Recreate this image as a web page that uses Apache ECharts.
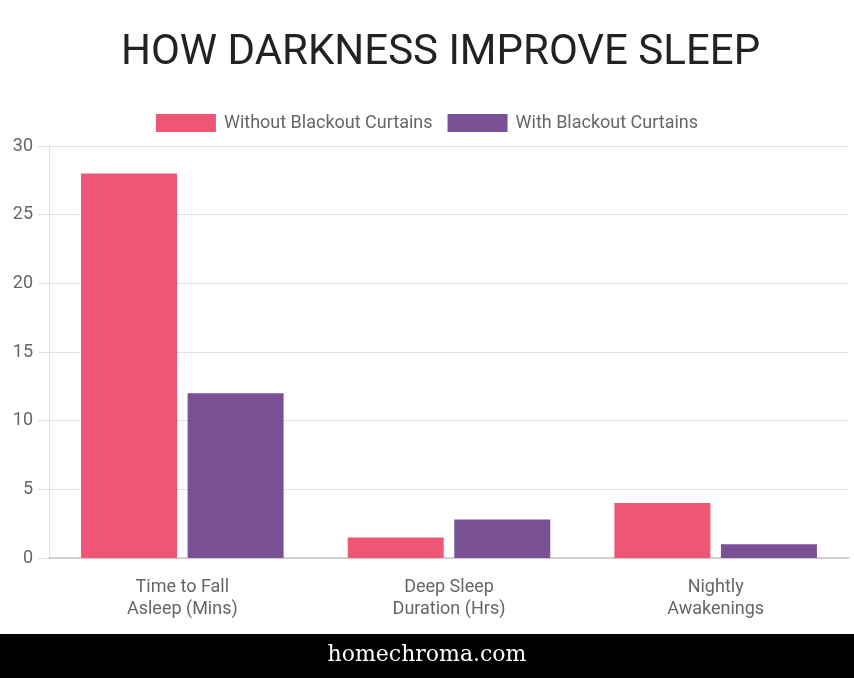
<!DOCTYPE html>
<html>
<head>
<meta charset="utf-8">
<title>How darkness improve sleep</title>
<script src="https://cdn.jsdelivr.net/npm/echarts@6/dist/echarts.min.js"></script>
<style>
	html, body { margin: 0; padding: 0; background: #fff; }
	#chart { width: 854px; height: 678px; }
</style>
</head>
<body>
<div id="chart"></div>
<script type="text/javascript">
var categories = ['Time to Fall\nAsleep (Mins)', 'Deep Sleep\nDuration (Hrs)', 'Nightly\nAwakenings'];
var withoutCurtains = [28, 1.5, 4];
var withCurtains = [12, 2.8, 1];
var seriesNames = ['Without Blackout Curtains', 'With Blackout Curtains'];
var colors = ['#ef5675', '#7a5195'];

var font = 'Roboto, "Noto Sans", sans-serif';

var option = {
	animation: false,
	color: colors,
	title: {
		text: 'HOW DARKNESS IMPROVE SLEEP',
		left: 116,
		top: 27,
		textStyle: {
			fontFamily: font,
			fontSize: 42,
			fontWeight: 'normal',
			color: '#222'
		}
	},
	legend: {
		data: seriesNames,
		left: 'center',
		top: 109,
		icon: 'rect',
		itemWidth: 60,
		itemHeight: 18,
		itemGap: 15,
		textStyle: {
			fontFamily: font,
			fontSize: 18,
			color: '#666',
			padding: [0, 0, 0, 3]
		}
	},
	grid: {
		left: 49,
		right: 5,
		top: 146,
		bottom: 120,
		containLabel: false
	},
	xAxis: {
		type: 'category',
		data: categories,
		axisLine: { lineStyle: { color: '#c8c8c8', width: 1.5 } },
		axisTick: { show: false },
		axisLabel: {
			fontFamily: font,
			fontSize: 18,
			color: '#666',
			lineHeight: 22,
			margin: 18
		}
	},
	yAxis: {
		type: 'value',
		min: 0,
		max: 30,
		interval: 5,
		axisLine: { show: true, lineStyle: { color: '#e2e2e2' } },
		axisTick: { show: true, length: 11, lineStyle: { color: '#e2e2e2' } },
		axisLabel: {
			fontFamily: font,
			fontSize: 18,
			color: '#666',
			margin: 16
		},
		splitLine: { lineStyle: { color: '#e2e2e2', width: 1.2 } }
	},
	series: [
		{
			name: seriesNames[0],
			type: 'bar',
			data: withoutCurtains,
			barWidth: 96,
			barGap: '11%'
		},
		{
			name: seriesNames[1],
			type: 'bar',
			data: withCurtains,
			barWidth: 96,
			barGap: '11%'
		}
	],
	graphic: [
		{
			type: 'rect',
			left: 0,
			top: 634,
			shape: { width: 854, height: 44 },
			style: { fill: '#000' }
		},
		{
			type: 'text',
			left: 'center',
			top: 644,
			style: {
				text: 'homechroma.com',
				fill: '#fff',
				font: '22px "DejaVu Serif", serif'
			}
		}
	]
};

var myChart = echarts.init(document.getElementById('chart'));
myChart.setOption(option);
</script>
</body>
</html>
